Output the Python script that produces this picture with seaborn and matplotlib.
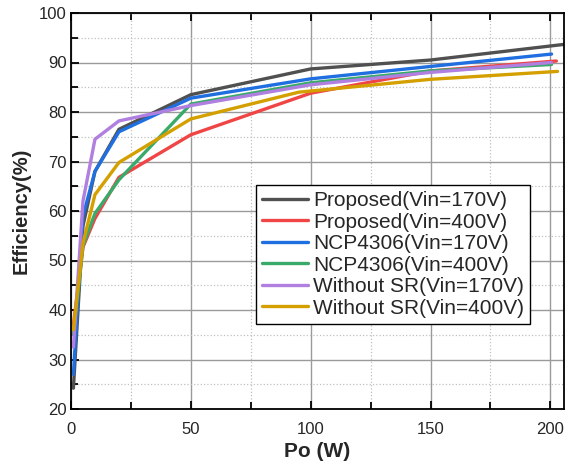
import numpy as np
import pandas as pd
import matplotlib
matplotlib.use("Agg")
import matplotlib.pyplot as plt
import seaborn as sns
from matplotlib.ticker import MultipleLocator

# Datos
po_prop170 = [1, 5, 10, 20, 50, 100, 150, 210]
ef_prop170 = [24.2, 57.0, 68.0, 76.5, 83.5, 88.7, 90.5, 93.9]

po_prop400 = [1, 5, 10, 20, 50, 100, 150, 202.5]
ef_prop400 = [37.0, 52.7, 58.5, 66.8, 75.4, 83.8, 88.3, 90.3]

po_ncp170 = [1, 5, 10, 20, 50, 100, 150, 200.5]
ef_ncp170 = [27.0, 59.0, 68.0, 76.0, 82.8, 86.7, 89.2, 91.7]

po_ncp400 = [1, 5, 10, 20, 50, 100, 150, 200.5]
ef_ncp400 = [35.0, 53.0, 59.5, 66.3, 81.6, 85.9, 88.3, 89.6]

po_wo170 = [1, 5, 10, 20, 50, 100, 150, 200.5]
ef_wo170 = [32.5, 62.0, 74.5, 78.2, 81.3, 85.5, 88.0, 90.0]

po_wo400 = [1, 5, 10, 20, 50, 95, 150, 203]
ef_wo400 = [36.0, 53.5, 63.3, 69.8, 78.6, 84.0, 86.6, 88.2]

etiquetas = ["Proposed(Vin=170V)", "Proposed(Vin=400V)", "NCP4306(Vin=170V)",
             "NCP4306(Vin=400V)", "Without SR(Vin=170V)", "Without SR(Vin=400V)"]
colores = ["#505050", "#f04545", "#1f6fe0", "#3aaa6a", "#b07fe0", "#d4a000"]

series_po = [po_prop170, po_prop400, po_ncp170, po_ncp400, po_wo170, po_wo400]
series_ef = [ef_prop170, ef_prop400, ef_ncp170, ef_ncp400, ef_wo170, ef_wo400]

# Tabla larga para seaborn
filas = []
for nombre, xs, ys in zip(etiquetas, series_po, series_ef):
    for x, y in zip(xs, ys):
        filas.append({"Po": x, "Eff": y, "Serie": nombre})
datos = pd.DataFrame(filas)

sns.set_style("ticks")
plt.rcParams['font.family'] = ['Liberation Sans', 'DejaVu Sans']

fig = plt.figure(figsize=(5.72, 4.66), dpi=100)
ax = fig.add_axes([71 / 572, 1 - 409 / 466, 493 / 572, 396 / 466])

sns.lineplot(data=datos, x="Po", y="Eff", hue="Serie", hue_order=etiquetas,
             palette=colores, linewidth=2.4, sort=False, estimator=None, ax=ax)

ax.set_xlim(0, 205.7)
ax.set_ylim(20, 100)
ax.xaxis.set_major_locator(MultipleLocator(50))
ax.xaxis.set_minor_locator(MultipleLocator(25))
ax.yaxis.set_major_locator(MultipleLocator(10))
ax.yaxis.set_minor_locator(MultipleLocator(5))

# Rejilla: principal continua, secundaria punteada
ax.grid(which="major", color="#9a9a9a", linestyle="-", linewidth=1.0)
ax.grid(which="minor", color="#c0c0c0", linestyle=":", linewidth=0.9)
ax.set_axisbelow(True)

ax.tick_params(which="both", direction="in", top=True, right=False,
               labelsize=12, width=1.3, color="black")
ax.tick_params(which="major", length=6)
ax.tick_params(which="minor", length=5)
ax.tick_params(axis="x", which="both", pad=9)
ax.tick_params(axis="y", which="both", pad=3)
for s in ax.spines.values():
    s.set_linewidth(1.3)
    s.set_color("black")

ax.set_xlabel("Po (W)", fontsize=15, fontweight="bold", labelpad=4)
ax.set_ylabel("Efficiency(%)", fontsize=14.5, fontweight="bold", labelpad=6)

leg = ax.legend(loc="upper left", bbox_to_anchor=(0.375, 0.566), fontsize=15,
                frameon=True, fancybox=False, edgecolor="black",
                handlelength=2.2, handletextpad=0.25, labelspacing=0.12,
                borderpad=0.3, borderaxespad=0)
leg.get_frame().set_linewidth(1.0)
leg.get_frame().set_alpha(1)
for ln in leg.get_lines():
    ln.set_linewidth(2.4)

fig.savefig("out.png", dpi=100)
